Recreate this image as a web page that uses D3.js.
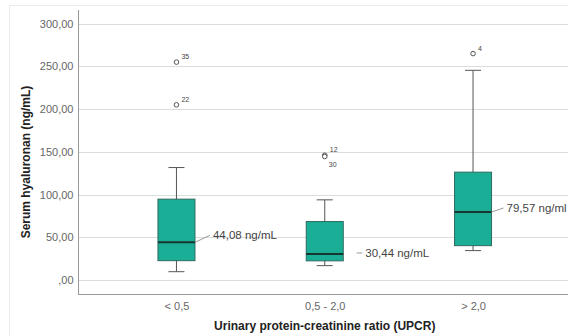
<!DOCTYPE html>
<html>
<head>
<meta charset="utf-8">
<script src="https://cdn.jsdelivr.net/npm/d3@7"></script>
<style>
  body { margin: 0; background: #fff; }
  text { font-family: "Liberation Sans", Arial, sans-serif; }
</style>
</head>
<body>
<div id="chart"></div>
<script>
// Chart values
const categories = ["< 0,5", "0,5 - 2,0", "> 2,0"];
const whiskerLow = [9.7, 16.8, 34.4];
const q1 = [22.6, 22.4, 40.2];
const median = [44.08, 30.44, 79.57];
const q3 = [94.6, 68.4, 126.2];
const whiskerHigh = [131.6, 93.8, 245.4];
const medianLabels = ["44,08 ng/mL", "30,44 ng/mL", "79,57 ng/ml"];
const outlierCat = [0, 0, 1, 1, 2];
const outlierValue = [255, 205, 146, 144.5, 265];
const outlierId = ["35", "22", "12", "30", "4"];
const yTicks = [0, 50, 100, 150, 200, 250, 300];

const width = 568, height = 336;
const plotLeft = 78, plotRight = 571.5, plotTop = 10, plotBottom = 294;

const svg = d3.select("#chart")
  .append("svg")
  .attr("width", width)
  .attr("height", height);

// faint outer frame
svg.append("rect")
  .attr("x", 9.5).attr("y", 5.5)
  .attr("width", 600).attr("height", 400)
  .attr("fill", "none")
  .attr("stroke", "#efe9e9");

const x = d3.scalePoint()
  .domain(categories)
  .range([plotLeft, plotRight])
  .padding(0.664);

const y = d3.scaleLinear()
  .domain([-16.4, 316])
  .range([plotBottom, plotTop]);

const locale = d3.formatLocale({ decimal: ",", thousands: ".", grouping: [3] });
const fmt = v => {
  const s = locale.format(".2f")(v);
  return s.startsWith("0,") ? s.slice(1) : s;
};

// gridlines
svg.append("g")
  .selectAll("line")
  .data(yTicks)
  .enter()
  .append("line")
  .attr("x1", plotLeft).attr("x2", width)
  .attr("y1", d => Math.round(y(d)) + 0.5)
  .attr("y2", d => Math.round(y(d)) + 0.5)
  .attr("stroke", "#dcdcdc");

// y axis
const yAxis = svg.append("g")
  .attr("transform", `translate(${plotLeft + 0.5},0)`)
  .call(d3.axisLeft(y).tickValues(yTicks).tickFormat(fmt).tickSize(0).tickPadding(5));
yAxis.select(".domain").remove();
yAxis.selectAll("text")
  .attr("fill", "#666")
  .style("font-size", "11px");
svg.append("line")
  .attr("x1", plotLeft + 0.5).attr("x2", plotLeft + 0.5)
  .attr("y1", plotTop).attr("y2", plotBottom)
  .attr("stroke", "#999");

// x axis
const xAxis = svg.append("g")
  .attr("transform", `translate(0,${plotBottom + 0.5})`)
  .call(d3.axisBottom(x).tickSize(0).tickPadding(8));
xAxis.select(".domain").remove();
xAxis.selectAll("text")
  .attr("fill", "#666")
  .style("font-size", "11px");
svg.append("line")
  .attr("x1", plotLeft).attr("x2", width)
  .attr("y1", plotBottom + 0.5).attr("y2", plotBottom + 0.5)
  .attr("stroke", "#999");

// axis titles
svg.append("text")
  .attr("x", x(categories[1]))
  .attr("y", 330)
  .attr("text-anchor", "middle")
  .style("font-size", "12px")
  .style("font-weight", "bold")
  .attr("fill", "#222")
  .text("Urinary protein-creatinine ratio (UPCR)");

svg.append("text")
  .attr("transform", "translate(30,162) rotate(-90)")
  .attr("text-anchor", "middle")
  .style("font-size", "12px")
  .style("font-weight", "bold")
  .attr("fill", "#222")
  .text("Serum hyaluronan (ng/mL)");

// boxes
const boxW = 37, capW = 16;
const boxes = svg.append("g")
  .selectAll("g")
  .data(categories)
  .enter()
  .append("g")
  .attr("transform", d => `translate(${x(d)},0)`);

boxes.append("line")
  .attr("x1", 0).attr("x2", 0)
  .attr("y1", (d, i) => y(whiskerLow[i]))
  .attr("y2", (d, i) => y(whiskerHigh[i]))
  .attr("stroke", "#555");

boxes.append("line")
  .attr("x1", -capW / 2).attr("x2", capW / 2)
  .attr("y1", (d, i) => y(whiskerHigh[i]))
  .attr("y2", (d, i) => y(whiskerHigh[i]))
  .attr("stroke", "#555");

boxes.append("line")
  .attr("x1", -capW / 2).attr("x2", capW / 2)
  .attr("y1", (d, i) => y(whiskerLow[i]))
  .attr("y2", (d, i) => y(whiskerLow[i]))
  .attr("stroke", "#555");

boxes.append("rect")
  .attr("x", -boxW / 2)
  .attr("width", boxW)
  .attr("y", (d, i) => y(q3[i]))
  .attr("height", (d, i) => y(q1[i]) - y(q3[i]))
  .attr("fill", "#1aae96")
  .attr("stroke", "#2e6a5f");

boxes.append("line")
  .attr("x1", -boxW / 2).attr("x2", boxW / 2)
  .attr("y1", (d, i) => y(median[i]))
  .attr("y2", (d, i) => y(median[i]))
  .attr("stroke", "#17362f")
  .attr("stroke-width", 2);

// median callouts
const callDx = [15, 19, 12], callDy = [-7, -1, -4], lineStart = [boxW / 2, 32, boxW / 2];
boxes.append("line")
  .attr("x1", (d, i) => lineStart[i])
  .attr("x2", (d, i) => boxW / 2 + callDx[i])
  .attr("y1", (d, i) => y(median[i]) + (i === 1 ? callDy[i] : 0))
  .attr("y2", (d, i) => y(median[i]) + callDy[i])
  .attr("stroke", "#999");

boxes.append("text")
  .attr("x", (d, i) => boxW / 2 + callDx[i] + 3)
  .attr("y", (d, i) => y(median[i]) + callDy[i])
  .attr("dy", "0.35em")
  .style("font-size", "11.5px")
  .attr("fill", "#444")
  .text((d, i) => medianLabels[i]);

// outliers
const outG = svg.append("g")
  .selectAll("g")
  .data(outlierValue)
  .enter()
  .append("g")
  .attr("transform", (d, i) => `translate(${x(categories[outlierCat[i]])},${y(d)})`);

outG.append("circle")
  .attr("r", 2.3)
  .attr("fill", "#fff")
  .attr("stroke", "#555");

outG.append("text")
  .attr("x", (d, i) => outlierId[i] === "30" ? 4 : 5)
  .attr("y", (d, i) => outlierId[i] === "30" ? 10 : -3)
  .style("font-size", "7px")
  .attr("fill", "#444")
  .text((d, i) => outlierId[i]);
</script>
</body>
</html>
